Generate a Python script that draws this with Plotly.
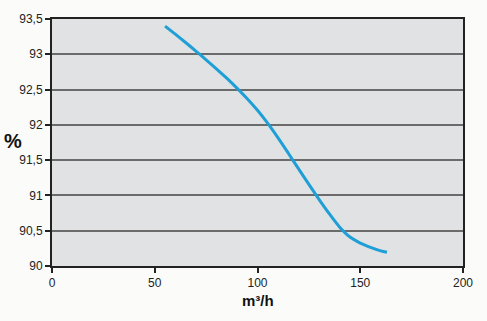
import plotly.graph_objects as go

flow = [55, 60, 65, 70, 75, 80, 85, 90, 95, 100, 105, 110, 115, 120, 125, 130, 135, 140, 145, 150, 155, 160, 163]
eff = [93.400, 93.285, 93.167, 93.046, 92.922, 92.794, 92.661, 92.521, 92.371, 92.206, 92.021, 91.816,
       91.598, 91.376, 91.156, 90.942, 90.738, 90.550, 90.410, 90.325, 90.265, 90.215, 90.195]
x_ticks = [0, 50, 100, 150, 200]
y_ticks = [90, 90.5, 91, 91.5, 92, 92.5, 93, 93.5]

fig = go.Figure()
fig.add_trace(go.Scatter(x=flow, y=eff, mode="lines",
                         line=dict(color="#1e9fd6", width=3, shape="spline", smoothing=0.8),
                         showlegend=False, hoverinfo="skip"))

fig.update_layout(
    width=487, height=321,
    margin=dict(l=52, r=24, t=19, b=55),
    paper_bgcolor="#fbfcfa",
    plot_bgcolor="#e1e2e4",
    separators=", ",
    font=dict(family="Liberation Sans, Arial, sans-serif", size=12, color="#222"),
    xaxis=dict(range=[0, 200], tickvals=x_ticks, showgrid=False, zeroline=False, automargin=False,
               showline=True, mirror=True, linecolor="#222", linewidth=2,
               ticks="outside", ticklen=5, tickcolor="#222", tickwidth=1.5),
    yaxis=dict(range=[90, 93.5], tickvals=y_ticks, showgrid=True, gridcolor="#6b6b6b", gridwidth=1.5,
               zeroline=False, showline=True, mirror=True, linecolor="#222", linewidth=2, automargin=False,
               ticks="outside", ticklen=5, tickcolor="#222", tickwidth=1.5),
)
fig.add_annotation(text="<b>%</b>", xref="paper", yref="paper", x=-0.122, y=0.506, showarrow=False,
                   xanchor="left", yanchor="middle", font=dict(size=20, color="#111"))
fig.add_annotation(text="<b>m³/h</b>", xref="paper", yref="paper", x=0.5, y=-0.138, showarrow=False,
                   xanchor="center", yanchor="middle", font=dict(size=15, color="#111"))

fig.write_html("out.html", config={"displayModeBar": False},
               post_script="document.body.style.margin='0';document.body.style.overflow='hidden';")
